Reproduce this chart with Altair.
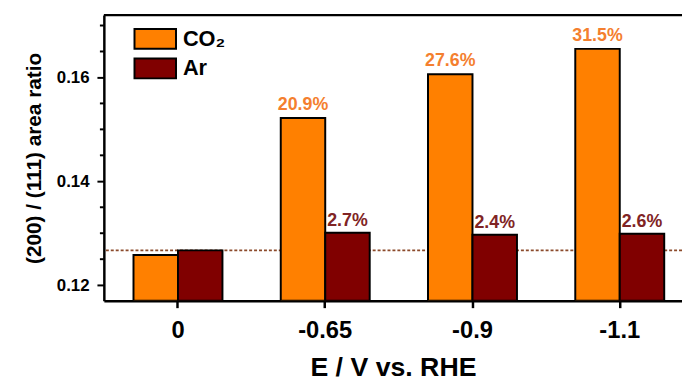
import altair as alt
import pandas as pd

potentials = ["0", "-0.65", "-0.9", "-1.1"]
gases = ["CO₂", "Ar"]
co2_ratio = [0.1258, 0.1522, 0.1606, 0.1655]
ar_ratio = [0.1267, 0.1301, 0.1297, 0.1299]
co2_change = ["", "20.9%", "27.6%", "31.5%"]
ar_change = ["", "2.7%", "2.4%", "2.6%"]
y_major = [0.12, 0.14, 0.16]
y_minor = [0.125, 0.13, 0.135, 0.145, 0.15, 0.155, 0.165, 0.17]
y_domain = [0.117, 0.172]

rows = []
for i, p in enumerate(potentials):
    rows.append({"E": p, "gas": gases[0], "ratio": co2_ratio[i], "label": co2_change[i]})
    rows.append({"E": p, "gas": gases[1], "ratio": ar_ratio[i], "label": ar_change[i]})
df = pd.DataFrame(rows)
minor_df = pd.DataFrame({"ratio": y_minor})

FONT = "Liberation Sans"
y_scale = alt.Scale(domain=y_domain, nice=False, zero=False)

x_enc = alt.X(
    "E:N", sort=potentials,
    scale=alt.Scale(paddingInner=0.396, paddingOuter=0.161, align=0.625),
    axis=alt.Axis(title="E / V vs. RHE", labelAngle=0, labelFontSize=24,
                  labelPadding=11, titleFontSize=27, titlePadding=13,
                  tickSize=7, tickWidth=2.5, domainWidth=2.5),
)
xo = alt.XOffset("gas:N", sort=gases, scale=alt.Scale(domain=gases, paddingInner=0, paddingOuter=0))
y_enc = alt.Y(
    "ratio:Q", scale=y_scale,
    axis=alt.Axis(values=y_major, title="(200) / (111) area ratio",
                  format=".2f", labelOverlap=False, labelFontSize=17, labelPadding=8,
                  titleFontSize=21, titlePadding=12, tickSize=7, tickWidth=2,
                  domainWidth=2.5),
)

base = alt.Chart(df)

# minor ticks of the y axis (0.005 steps), drawn just outside the axis line
minor_ticks = alt.Chart(minor_df).mark_rule(color="black", strokeWidth=2).encode(
    y=alt.Y("ratio:Q", scale=y_scale), x=alt.value(-4), x2=alt.value(0)
)

ref_line = alt.Chart(pd.DataFrame({"k": [0]})).mark_rule(
    color="#8B4A2B", strokeWidth=2, strokeDash=[3, 2]
).encode(y=alt.datum(ar_ratio[0]))

top_frame = alt.Chart(pd.DataFrame({"k": [0]})).mark_rule(
    color="black", strokeWidth=2.5
).encode(y=alt.datum(y_domain[1]))

bars = base.mark_bar(stroke="black", strokeWidth=2, clip=True).encode(
    x=x_enc, xOffset=xo, y=y_enc, y2=alt.datum(y_domain[0]),
    color=alt.Color(
        "gas:N", sort=gases,
        scale=alt.Scale(domain=gases, range=["#FF8000", "#800000"]),
        legend=alt.Legend(
            title=None, orient="none", legendX=41, legendY=13, padding=0,
            symbolType="M-2.1,-1H2.1V1H-2.1Z", symbolSize=400,
            symbolStrokeColor="black", symbolStrokeWidth=2, symbolOpacity=1,
            labelFontSize=22, labelFontWeight="bold", labelFont=FONT,
            labelColor="black", labelOffset=17, rowPadding=2,
        ),
    ),
)

co2_text = base.transform_filter(alt.datum.gas == gases[0]).mark_text(
    font=FONT, fontWeight="bold", fontSize=18, color="#F47F2F",
    baseline="alphabetic", dy=-8,
).encode(x=x_enc, xOffset=xo, y=y_enc, text="label:N")

ar_text = base.transform_filter(alt.datum.gas == gases[1]).mark_text(
    font=FONT, fontWeight="bold", fontSize=18, color="#802424",
    baseline="alphabetic", dy=-7,
).encode(x=x_enc, xOffset=xo, y=y_enc, text="label:N")

chart = alt.layer(ref_line, bars, co2_text, ar_text, top_frame, minor_ticks).properties(
    width=585, height=289,
    autosize=alt.AutoSizeParams(type="none"),
    padding={"left": 97, "top": 5, "right": 0, "bottom": 79},
    background="white",
).configure_view(stroke=None).configure_axis(
    labelFont=FONT, titleFont=FONT, labelFontWeight="bold", titleFontWeight="bold",
    labelColor="black", titleColor="black", domainColor="black", tickColor="black",
    grid=False,
)

chart.save("out.html", embed_options={"renderer": "svg", "actions": False})
